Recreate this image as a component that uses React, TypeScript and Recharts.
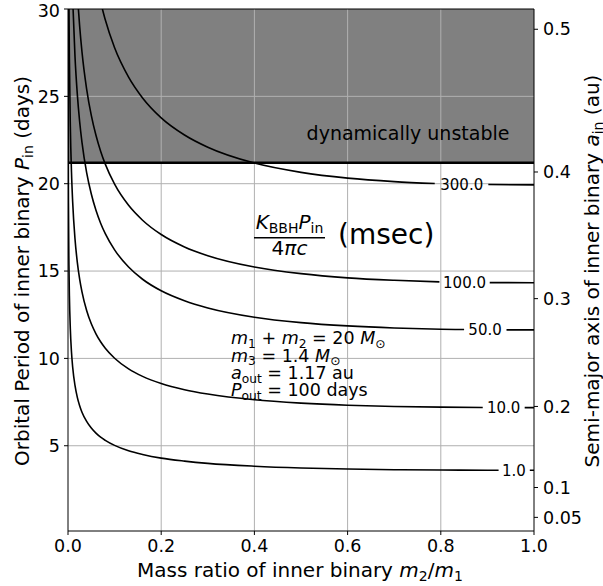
import React from 'react';
import { LineChart, Line, XAxis, YAxis, ReferenceArea, ReferenceLine, ReferenceDot } from 'recharts';

const FONT = '"DejaVu Sans", sans-serif';

// contour levels of K_BBH P_in / 4πc (msec); each curve: mass ratio q = m2/m1 vs P_in (days)
// a null marks the break that matplotlib left for the inline label
const q1 = [0.00021, 0.0005, 0.001, 0.002, 0.003, 0.005, 0.0075, 0.01, 0.015, 0.02, 0.025, 0.03, 0.04, 0.05, 0.06, 0.07, 0.08, 0.1, 0.13, 0.16, 0.2, 0.25, 0.3, 0.4, 0.5, 0.6, 0.7, 0.8, 0.9, 0.924, 0.957, 0.991, 1.0];
const p1 = [30, 23.2, 18.88, 15.34, 13.59, 11.68, 10.35, 9.51, 8.45, 7.77, 7.29, 6.92, 6.39, 6.01, 5.72, 5.49, 5.31, 5.02, 4.71, 4.5, 4.29, 4.12, 3.99, 3.83, 3.73, 3.67, 3.63, 3.61, 3.6, 3.6, null, 3.6, 3.6];

const q10 = [0.0021, 0.003, 0.005, 0.0075, 0.01, 0.015, 0.02, 0.025, 0.03, 0.04, 0.05, 0.06, 0.07, 0.08, 0.1, 0.13, 0.16, 0.2, 0.25, 0.3, 0.4, 0.5, 0.6, 0.7, 0.8, 0.89, 0.935, 0.98, 1.0];
const p10 = [30, 27.11, 23.29, 20.65, 18.97, 16.85, 15.5, 14.54, 13.81, 12.74, 11.98, 11.41, 10.95, 10.58, 10.01, 9.4, 8.97, 8.56, 8.21, 7.96, 7.63, 7.44, 7.32, 7.25, 7.21, 7.19, null, 7.18, 7.18];

const q50 = [0.0109, 0.015, 0.02, 0.025, 0.03, 0.04, 0.05, 0.06, 0.07, 0.08, 0.1, 0.13, 0.16, 0.2, 0.25, 0.3, 0.4, 0.5, 0.6, 0.7, 0.8, 0.85, 0.895, 0.941, 1.0];
const p50 = [30, 27.29, 25.11, 23.55, 22.36, 20.63, 19.41, 18.48, 17.74, 17.14, 16.21, 15.23, 14.53, 13.87, 13.3, 12.89, 12.36, 12.05, 11.86, 11.74, 11.67, 11.65, null, 11.63, 11.63];

const q100 = [0.0223, 0.025, 0.03, 0.04, 0.05, 0.06, 0.07, 0.08, 0.1, 0.13, 0.16, 0.2, 0.25, 0.3, 0.4, 0.5, 0.6, 0.7, 0.797, 0.851, 0.905, 1.0];
const p100 = [30, 29.02, 27.55, 25.42, 23.91, 22.77, 21.86, 21.12, 19.97, 18.76, 17.91, 17.09, 16.38, 15.88, 15.23, 14.85, 14.61, 14.47, 14.38, null, 14.34, 14.33];

const q300 = [0.0738, 0.08, 0.1, 0.13, 0.16, 0.2, 0.25, 0.3, 0.4, 0.5, 0.6, 0.7, 0.787, 0.845, 0.902, 1.0];
const p300 = [30, 29.38, 27.78, 26.1, 24.91, 23.77, 22.79, 22.09, 21.18, 20.65, 20.32, 20.12, 20.01, null, 19.95, 19.93];

// inline contour labels
const labelText = ['1.0', '10.0', '50.0', '100.0', '300.0'];
const labelQ = [0.957, 0.935, 0.895, 0.851, 0.845];
const labelP = [3.6, 7.18, 11.64, 14.35, 19.97];

// dynamical stability limit (days)
const unstableP = 21.2;

const qTicks = [0, 0.2, 0.4, 0.6, 0.8, 1.0];
const pTicks = [5, 10, 15, 20, 25, 30];
const gridQ = [0.2, 0.4, 0.6, 0.8];
const gridP = [5, 10, 15, 20, 25];

// right axis: semi-major axis (au) and the period each tick sits at
const auTicks = [0.05, 0.1, 0.2, 0.3, 0.4, 0.5];
const auTickPeriod = [0.9, 2.61, 7.25, 13.42, 20.67, 28.84];

const toPoints = (q: number[], p: (number | null)[]) => q.map((v, i) => ({ q: v, p: p[i] }));

const curves = [
  toPoints(q1, p1),
  toPoints(q10, p10),
  toPoints(q50, p50),
  toPoints(q100, p100),
  toPoints(q300, p300),
];

const tickStyle = { fill: '#000', fontSize: 17.5, fontFamily: FONT };

// mathtext-ish runs: i = italic, s = subscript
type Seg = { t: string; i?: boolean; s?: boolean };

function runs(segs: Seg[], subSize: number, shift: number) {
  let cur = 0;
  return segs.map((g, k) => {
    const target = g.s ? shift : 0;
    const dy = target - cur;
    cur = target;
    return (
      <tspan
        key={k}
        dy={dy !== 0 ? dy : undefined}
        fontSize={g.s ? subSize : undefined}
        fontStyle={g.i ? 'italic' : undefined}
      >
        {g.t}
      </tspan>
    );
  });
}

const annotation: Seg[][] = [
  [{ t: 'm', i: true }, { t: '1', s: true }, { t: ' + ' }, { t: 'm', i: true }, { t: '2', s: true }, { t: ' = 20 ' }, { t: 'M', i: true }, { t: '⊙', s: true }],
  [{ t: 'm', i: true }, { t: '3', s: true }, { t: ' = 1.4 ' }, { t: 'M', i: true }, { t: '⊙', s: true }],
  [{ t: 'a', i: true }, { t: 'out', s: true }, { t: ' = 1.17 au' }],
  [{ t: 'P', i: true }, { t: 'out', s: true }, { t: ' = 100 days' }],
];
const annotationBaselines = [344, 361.5, 379, 396];

export default function App() {
  return (
    <div style={{ position: 'absolute', left: 0, top: 0, width: 603, height: 586, background: '#fff' }}>
      <LineChart width={603} height={586} margin={{ top: 9, right: 0, bottom: 0, left: 0 }}>
        <XAxis
          dataKey="q"
          type="number"
          domain={[0, 1]}
          ticks={qTicks}
          tickFormatter={(v: number) => v.toFixed(1)}
          height={55}
          stroke="#000"
          tick={tickStyle}
          tickSize={4}
          tickMargin={5}
          allowDataOverflow
        />
        <YAxis
          type="number"
          domain={[0.12, 30]}
          ticks={pTicks}
          width={68}
          stroke="#000"
          tick={tickStyle}
          tickSize={4}
          tickMargin={4}
          allowDataOverflow
        />
        <YAxis
          yAxisId="au"
          orientation="right"
          type="number"
          domain={[0.12, 30]}
          ticks={auTickPeriod}
          tickFormatter={(v: number) => String(auTicks[auTickPeriod.indexOf(v)])}
          width={69}
          stroke="#000"
          tick={tickStyle}
          tickSize={4}
          tickMargin={5}
          allowDataOverflow
        />

        <ReferenceArea y1={unstableP} y2={30} fill="#808080" fillOpacity={1} stroke="none" ifOverflow="hidden" />
        {gridQ.map((v) => (
          <ReferenceLine key={'gx' + v} x={v} stroke="#b0b0b0" strokeWidth={1} />
        ))}
        {gridP.map((v) => (
          <ReferenceLine key={'gy' + v} y={v} stroke="#b0b0b0" strokeWidth={1} />
        ))}
        <ReferenceLine y={30} stroke="#000" strokeWidth={1} />
        <ReferenceLine y={unstableP} stroke="#000" strokeWidth={2.5} />

        {curves.map((d, i) => (
          <Line
            key={labelText[i]}
            data={d}
            dataKey="p"
            type="monotone"
            stroke="#000"
            strokeWidth={1.6}
            dot={false}
            activeDot={false}
            isAnimationActive={false}
          />
        ))}

        {labelText.map((t, i) => (
          <ReferenceDot
            key={'lbl' + t}
            x={labelQ[i]}
            y={labelP[i]}
            r={0}
            fill="none"
            stroke="none"
            label={{ value: t, position: 'center', fill: '#000', fontSize: 15, fontFamily: FONT }}
          />
        ))}
      </LineChart>

      <svg
        width={603}
        height={586}
        style={{ position: 'absolute', left: 0, top: 0, pointerEvents: 'none' }}
        fontFamily={FONT}
        fill="#000"
      >
        <text x={408} y={140} fontSize={19} textAnchor="middle">dynamically unstable</text>

        {/* K_BBH P_in / 4πc (msec) */}
        <text x={289.5} y={229} fontSize={20} textAnchor="middle">
          {runs([{ t: 'K', i: true }, { t: 'BBH', s: true }, { t: 'P', i: true }, { t: 'in', s: true }], 14, 3.5)}
        </text>
        <line x1={254} x2={325} y1={237.7} y2={237.7} stroke="#000" strokeWidth={1.6} />
        <text x={289.5} y={255} fontSize={20} textAnchor="middle">
          {runs([{ t: '4' }, { t: 'πc', i: true }], 14, 0)}
        </text>
        <text x={338} y={244} fontSize={28}>(msec)</text>

        {/* system parameters */}
        <g fontSize={17.5}>
          {annotation.map((segs, k) => (
            <text key={k} x={231} y={annotationBaselines[k]}>
              {runs(segs, 12.25, 3.5)}
            </text>
          ))}
        </g>

        {/* axis titles */}
        <text x={300} y={577} fontSize={20} textAnchor="middle">
          {runs([{ t: 'Mass ratio of inner binary ' }, { t: 'm', i: true }, { t: '2', s: true }, { t: '/' }, { t: 'm', i: true }, { t: '1', s: true }], 14, 4)}
        </text>
        <text transform="translate(28.5,271) rotate(-90)" fontSize={20} textAnchor="middle">
          {runs([{ t: 'Orbital Period of inner binary ' }, { t: 'P', i: true }, { t: 'in', s: true }, { t: ' (days)' }], 14, 4)}
        </text>
        <text transform="translate(598.5,271) rotate(-90)" fontSize={20} textAnchor="middle">
          {runs([{ t: 'Semi-major axis of inner binary ' }, { t: 'a', i: true }, { t: 'in', s: true }, { t: ' (au)' }], 14, 4)}
        </text>
      </svg>
    </div>
  );
}
